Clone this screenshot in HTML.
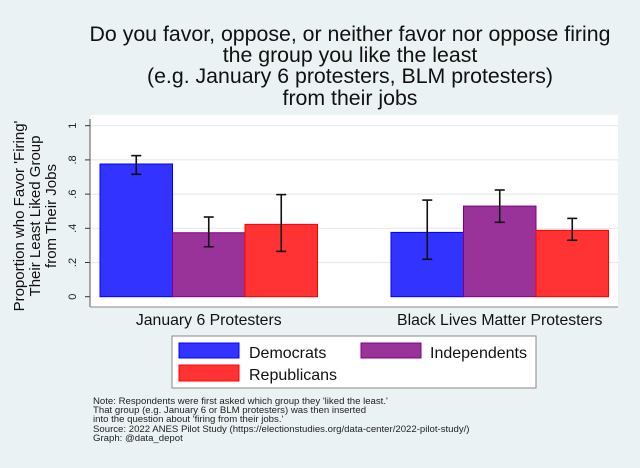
<!DOCTYPE html>
<html><head><meta charset="utf-8">
<style>
body{margin:0;background:#fff;}
#wrap{width:640px;height:468px;background:#eaf2f3;position:relative;overflow:hidden;font-family:"Liberation Sans",Arial,sans-serif;}
</style></head>
<body>
<div id="wrap">
<svg id="chart" width="640" height="468" xmlns="http://www.w3.org/2000/svg">
<g font-size="21.3" fill="#111" text-anchor="middle">
<text x="350" y="41">Do you favor, oppose, or neither favor nor oppose firing</text>
<text x="350" y="62">the group you like the least</text>
<text x="350" y="83">(e.g. January 6 protesters, BLM protesters)</text>
<text x="350" y="105">from their jobs</text>
</g>
<rect x="90" y="115" width="528" height="192" fill="#fff"/>
<g id="grid"></g>
<g id="bars"></g>
<g id="axes"></g>
<g font-size="15" fill="#111" text-anchor="middle">
<text transform="translate(24,216) rotate(-90)">Proportion who Favor 'Firing'</text>
<text transform="translate(40,216) rotate(-90)">Their Least Liked Group</text>
<text transform="translate(56,216) rotate(-90)">from Their Jobs</text>
</g>
<g>
<rect x="172" y="336" width="364" height="52" fill="#fff" stroke="#888" stroke-width="1"/>
<rect x="179" y="343" width="60" height="15" fill="#3333ff" stroke="#0000ff"/>
<text x="249" y="358" font-size="16" fill="#111">Democrats</text>
<rect x="361" y="343" width="60" height="15" fill="#993399" stroke="#800080"/>
<text x="430" y="358" font-size="16" fill="#111">Independents</text>
<rect x="179" y="365" width="60" height="16" fill="#ff3333" stroke="#ff0000"/>
<text x="249" y="380" font-size="16" fill="#111">Republicans</text>
</g>
<g font-size="9.6" fill="#222">
<text x="93" y="404">Note: Respondents were first asked which group they 'liked the least.'</text>
<text x="93" y="413">That group (e.g. January 6 or BLM protesters) was then inserted</text>
<text x="93" y="422">into the question about 'firing from their jobs.'</text>
<text x="93" y="432">Source: 2022 ANES Pilot Study (https://electionstudies.org/data-center/2022-pilot-study/)</text>
<text x="93" y="441">Graph: @data_depot</text>
</g>
</svg>
</div>
<script>
const categories = ["January 6 Protesters", "Black Lives Matter Protesters"];
const seriesNames = ["Democrats", "Independents", "Republicans"];
const democrats = [0.776, 0.376];
const independents = [0.374, 0.530];
const republicans = [0.423, 0.388];
const democratsLo = [0.716, 0.219];
const democratsHi = [0.825, 0.565];
const independentsLo = [0.292, 0.435];
const independentsHi = [0.466, 0.624];
const republicansLo = [0.265, 0.330];
const republicansHi = [0.597, 0.458];
const yTicks = [0, 0.2, 0.4, 0.6, 0.8, 1];
const yTickLabels = ["0", ".2", ".4", ".6", ".8", "1"];

const NS = "http://www.w3.org/2000/svg";
const fills = ["#3333ff", "#993399", "#ff3333"];
const strokes = ["#0000ff", "#800080", "#ff0000"];
const y0 = 296.7, yScale = 171;
function yPos(v){ return y0 - v * yScale; }
const groupStarts = [100, 391];
const barW = 72.5;
function xPos(g, s){ return groupStarts[g] + s * barW; }
function mk(tag, attrs, parent){
  const e = document.createElementNS(NS, tag);
  for (const k in attrs) e.setAttribute(k, attrs[k]);
  parent.appendChild(e);
  return e;
}
const grid = document.getElementById('grid');
const axes = document.getElementById('axes');
const bars = document.getElementById('bars');
yTicks.forEach((t, i) => {
  if (t > 0) {
    const gl = mk('line', {x1: 90, x2: 618, y1: yPos(t), y2: yPos(t), stroke: '#e4ecee', 'stroke-width': 1.2}, grid);
    
    
  }
  const tk = mk('line', {x1: 85, x2: 90, y1: yPos(t), y2: yPos(t), stroke: '#333'}, axes);
  
  
  const lb = mk('text', {transform: `translate(76,${yPos(t)}) rotate(-90)`, 'text-anchor': 'middle', 'font-size': 11, fill: '#222'}, axes);
  lb.textContent = yTickLabels[i];
  
  
});
const yAx = mk('line', {x1: 90, x2: 90, y1: 119, y2: 307, stroke: '#555'}, axes);


const xAx = mk('line', {x1: 90, x2: 618, y1: 307, y2: 307, stroke: '#888'}, axes);



const vals = [democrats, independents, republicans];
const los = [democratsLo, independentsLo, republicansLo];
const his = [democratsHi, independentsHi, republicansHi];
categories.forEach((c, g) => {
  vals.forEach((arr, s) => {
    const x = xPos(g, s);
    const r = mk('rect', {x: x, y: yPos(arr[g]), width: barW, height: y0 - yPos(arr[g]), fill: fills[s], stroke: strokes[s], 'stroke-width': 1}, bars);
    
    
    const cx = x + barW / 2;
    const eb = mk('g', {stroke: '#111', 'stroke-width': 1.6}, bars);
    
    
    mk('line', {x1: cx, x2: cx, y1: yPos(his[s][g]), y2: yPos(los[s][g])}, eb);
    mk('line', {x1: cx - 5, x2: cx + 5, y1: yPos(his[s][g]), y2: yPos(his[s][g])}, eb);
    mk('line', {x1: cx - 5, x2: cx + 5, y1: yPos(los[s][g]), y2: yPos(los[s][g])}, eb);
  });
  const lbl = mk('text', {x: groupStarts[g] + barW * 1.5, y: 325, 'text-anchor': 'middle', 'font-size': 15.8, fill: '#111'}, axes);
  lbl.textContent = c;
  
  
});
</script>
</body></html>
